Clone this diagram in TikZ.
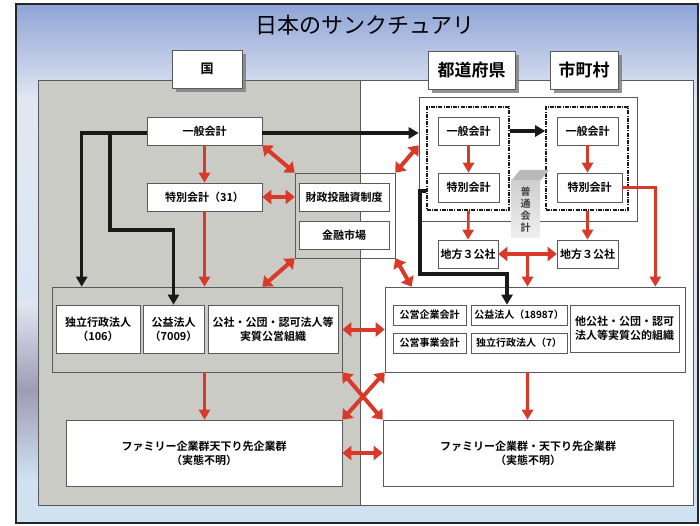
\documentclass[tikz,border=0pt]{standalone}
\usepackage{fontspec}
\newfontfamily\jp{Noto Sans CJK JP}[BoldFont=* Bold]
\usetikzlibrary{arrows.meta,shadows,calc}
\definecolor{myred}{HTML}{D8392B}
\definecolor{boxline}{HTML}{5A5A5A}
\definecolor{panelgray}{HTML}{CBCBC6}
\definecolor{bgtop}{HTML}{8FA4D6}
\definecolor{bgmid}{HTML}{E2E8F3}
\definecolor{bgbot}{HTML}{CFE2F2}
\definecolor{bgpurp}{HTML}{9E9CB5}
\newcommand\mybox[7]{%
  \pgfmathsetmacro\mbw{#5-#3}\pgfmathsetmacro\mbh{#6-#4}%
  \node[#2, minimum width=\mbw pt, minimum height=\mbh pt] (#1) at ({(#3+#5)/2},{(#4+#6)/2}) {#7};}
\tikzset{
  tx/.style={font=\jp\bfseries\fontsize{11}{14}\selectfont},
  txs/.style={font=\jp\bfseries\fontsize{10}{13}\selectfont},
  ibox/.style={draw=boxline, fill=white, line width=0.6pt, inner sep=0pt, align=center, tx},
  grp/.style={draw=boxline, line width=0.6pt, inner sep=0pt},
  panel/.style={draw=boxline, line width=0.6pt, inner sep=0pt},
  dsh/.style={draw=black!90, line width=1.6pt, inner sep=0pt, dash pattern=on 4pt off 1.2pt on 1pt off 1.2pt},
  hdr/.style={draw=boxline, fill=white, line width=0.6pt, inner sep=0pt, drop shadow={shadow xshift=4pt, shadow yshift=-4pt, fill=black!50, opacity=0.85}},
  rarr/.style={draw=myred, line width=2.6pt, -{Triangle[width=11pt,length=10pt]}},
  darr/.style={draw=myred, line width=4pt, {Triangle[width=14pt,length=9pt]}-{Triangle[width=14pt,length=9pt]}},
  barr/.style={draw=black!90, line width=3.2pt, -{Triangle[width=11pt,length=10pt]}},
}
\begin{document}
\begin{tikzpicture}[x=1pt,y=-1pt]
\useasboundingbox (0,0) rectangle (700,526);
\fill[white] (0,0) rectangle (700,526);
\shade[top color=bgmid, bottom color=bgbot] (16,100) rectangle (698,523);
\shade[top color=bgtop, bottom color=bgmid] (16,4) rectangle (698,100.5);
\shade[top color=bgmid, bottom color=bgpurp] (17,300) rectangle (38,390.5);
\shade[top color=bgpurp, bottom color=bgbot] (17,390) rectangle (38,480);
\draw[line width=2pt, black!85] (16,4) rectangle (698,523);
% panels
\mybox{gp}{panel,fill=panelgray}{38}{80}{360}{505}{}
\mybox{wp}{panel,fill=white}{360}{80}{693}{505}{}
% groups
\mybox{zo}{grp}{295}{173}{395}{258}{}
\mybox{lg}{grp}{52}{287}{342}{372}{}
\mybox{rg}{grp,fill=white}{385}{287}{685}{372}{}
\mybox{pb}{grp}{419}{97}{637}{221}{}
\mybox{pd}{dsh}{427}{107}{509}{210}{}
\mybox{md}{dsh}{546}{107}{628}{210}{}
% national
\mybox{kg}{ibox}{147}{117}{262}{145}{一般会計}
\mybox{ks}{ibox}{147}{183}{262}{211}{特別会計（31）}
\mybox{zai}{ibox}{299}{183}{389}{211}{財政投融資制度}
\mybox{kin}{ibox}{299}{221}{389}{249}{金融市場}
\mybox{dok}{ibox}{56}{305}{140}{353}{独立行政法人\\（106）}
\mybox{kou}{ibox}{143}{305}{204}{353}{公益法人\\（7009）}
\mybox{kos}{ibox}{208}{305}{338}{353}{公社・公団・認可法人等\\実質公営組織}
% prefecture / municipality
\mybox{pg}{ibox}{438}{117}{499}{145}{一般会計}
\mybox{ps}{ibox}{438}{173}{499}{202}{特別会計}
\mybox{mg}{ibox}{557}{117}{618}{145}{一般会計}
\mybox{ms}{ibox}{557}{173}{622}{202}{特別会計}
\mybox{p3}{ibox}{438}{240}{498}{268}{地方３公社}
\mybox{m3}{ibox}{557}{240}{618}{268}{地方３公社}
\mybox{eik}{ibox,txs}{393}{305}{466}{325}{公営企業会計}
\mybox{jig}{ibox,txs}{393}{333}{466}{353}{公営事業会計}
\mybox{kek}{ibox,txs}{471}{305}{567}{325}{公益法人（18987）}
\mybox{dk7}{ibox,txs}{471}{333}{567}{353}{独立行政法人（7）}
\mybox{tak}{ibox}{570}{305}{679}{352}{他公社・公団・認可\\法人等実質公的組織}
% family
\mybox{lf}{ibox}{66}{420}{342}{486}{ファミリー企業群天下り先企業群\\（実態不明）}
\mybox{rf}{ibox}{383}{420}{673}{486}{ファミリー企業群・天下り先企業群\\（実態不明）}
% futsu kaikei block
\fill[gray!55] (511,181) -- (540,181) -- (549,170) -- (520,170) -- cycle;
\shade[top color=gray!38, bottom color=gray!12] (511,181) rectangle (540,238);
\node[font=\jp\bfseries\fontsize{10}{12}\selectfont, align=center, text=black!75, inner sep=0pt] (fut) at (525.5,210) {普\\通\\会\\計};
% black arrows
\coordinate (br) at (110,133);
\coordinate (jy) at (110,230);
\coordinate (pb1) at (420,191);
\coordinate (pb2) at (420,274);
\draw[barr] ([yshift=-2pt]kg.east) -- ([yshift=-2pt]kg.east -| pb.west);
\draw[barr] ([yshift=-2pt]kg.west) -| ([xshift=30pt]lg.north west);
\draw[barr] (br) -- (jy) -| (kou.north);
\draw[barr] (pd.east |- pg) -- (md.west |- pg);
\draw[barr] (pd.west |- pb1) -- (pb1) -- (pb2) -| ([xshift=-12pt]kek.north);
% red arrows
\coordinate (mid3) at ($(p3.east)!0.5!(m3.west)$);
\draw[rarr] (kg) -- (ks);
\draw[rarr] (ks.south) -- (ks.south |- lg.north);
\draw[rarr] (pg) -- (ps);
\draw[rarr] (mg.south) -- (mg.south |- ms.north);
\draw[rarr] (ps.south |- pd.south) -- (p3.north);
\draw[rarr] (mg.south |- md.south) -- (mg.south |- m3.north);
\draw[rarr] (ms.east) -| ([xshift=-30pt]rg.north east);
\draw[rarr] (mid3) -- (mid3 |- rg.north);
\draw[rarr] (ks.south |- lg.south) -- (ks.south |- lf.north);
\draw[rarr] (mid3 |- rg.south) -- (mid3 |- rf.north);
% red double arrows
\draw[darr] (kg.south east) -- (zo.north west);
\draw[darr] (ks.east) -- (ks.east -| zo.west);
\draw[darr] (zo.south west) -- (lg.north -| kg.east);
\draw[darr] (zo.north east) -- (pb.west |- kg.south);
\draw[darr] (zo.south east) -- ([xshift=27pt]rg.north west);
\draw[darr] (lg.east) -- (rg.west);
\draw[darr] (lg.south east) -- (rf.north west);
\draw[darr] (rg.south west) -- (lf.north east);
\draw[darr] (lf.east) -- (rf.west);
\draw[darr] (p3.east) -- (m3.west);
% headers
\mybox{hk}{hdr,tx,font=\jp\bfseries\fontsize{13}{15}\selectfont}{172}{50}{242}{88}{国}
\mybox{hp}{hdr,font=\jp\bfseries\fontsize{17}{20}\selectfont}{428}{51}{515}{89}{都道府県}
\mybox{hm}{hdr,font=\jp\bfseries\fontsize{17}{20}\selectfont}{550}{51}{618}{89}{市町村}
\node[font=\jp\fontsize{22}{26}\selectfont, inner sep=0pt] (title) at (365,25) {日本のサンクチュアリ};
\end{tikzpicture}
\end{document}
